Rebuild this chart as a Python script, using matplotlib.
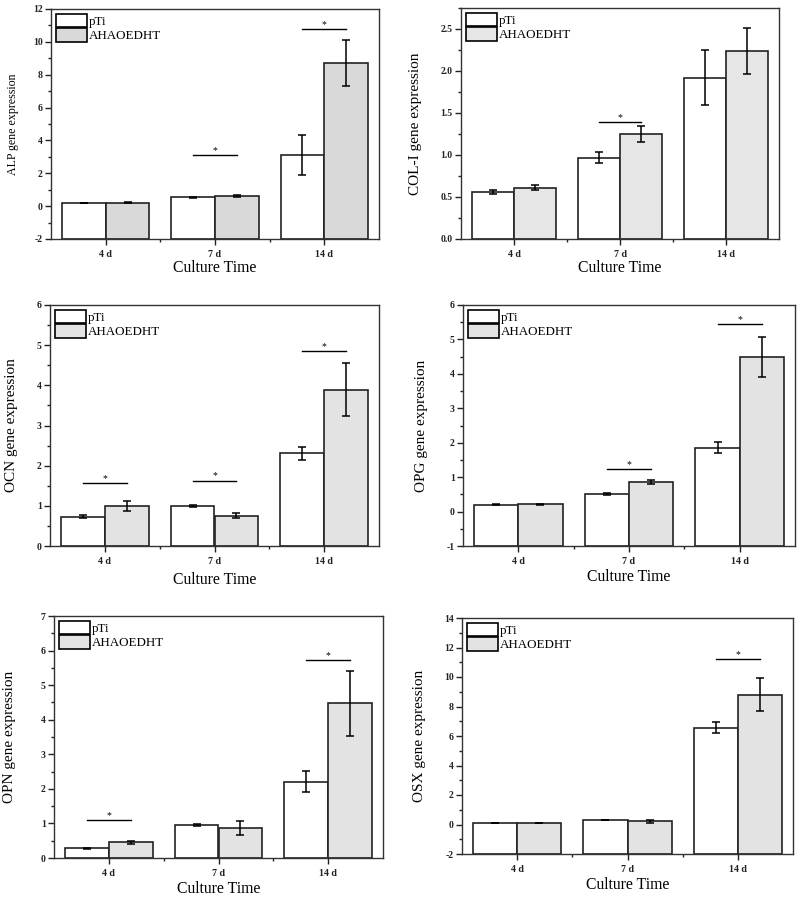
import matplotlib.pyplot as plt
import numpy as np
from matplotlib.ticker import MultipleLocator
from matplotlib.patches import Patch

plt.rcParams['font.family'] = ['Liberation Serif', 'DejaVu Serif']

days = ['4 d', '7 d', '14 d']
groups = ['pTi', 'AHAOEDHT']

# mean values and error
alp_pti = [0.20, 0.55, 3.10]
alp_pti_err = [0.02, 0.03, 1.22]
alp_aha = [0.22, 0.62, 8.72]
alp_aha_err = [0.03, 0.06, 1.40]
alp_sig = [(1, 3.10), (2, 10.80)]

col_pti = [0.56, 0.97, 1.92]
col_pti_err = [0.02, 0.07, 0.33]
col_aha = [0.61, 1.25, 2.24]
col_aha_err = [0.03, 0.09, 0.27]
col_sig = [(1, 1.39)]

ocn_pti = [0.73, 1.00, 2.31]
ocn_pti_err = [0.04, 0.02, 0.16]
ocn_aha = [1.00, 0.75, 3.89]
ocn_aha_err = [0.12, 0.06, 0.66]
ocn_sig = [(0, 1.57), (1, 1.63), (2, 4.85)]

opg_pti = [0.20, 0.52, 1.85]
opg_pti_err = [0.01, 0.03, 0.16]
opg_aha = [0.21, 0.86, 4.48]
opg_aha_err = [0.01, 0.05, 0.58]
opg_sig = [(1, 1.23), (2, 5.45)]

opn_pti = [0.28, 0.95, 2.21]
opn_pti_err = [0.02, 0.03, 0.31]
opn_aha = [0.45, 0.87, 4.47]
opn_aha_err = [0.04, 0.20, 0.95]
opn_sig = [(0, 1.11), (2, 5.73)]

osx_pti = [0.08, 0.30, 6.57]
osx_pti_err = [0.01, 0.02, 0.35]
osx_aha = [0.08, 0.22, 8.80]
osx_aha_err = [0.01, 0.10, 1.10]
osx_sig = [(2, 11.23)]

W, H = 800, 899
fig = plt.figure(figsize=(W / 100, H / 100), dpi=100)

# name, data, ylim, step, axes box in px (x0, y0, x1, y1), ylabel size, fill, ylabel offset px, xlabel offset px
panels = [
    ('ALP', alp_pti, alp_pti_err, alp_aha, alp_aha_err, alp_sig, (-2, 12), 2,
     (51, 9, 379, 239), 8.6, '#d9d9d9', 38, 29),
    ('COL-I', col_pti, col_pti_err, col_aha, col_aha_err, col_sig, (0, 2.75), 0.5,
     (461, 8, 779, 239), 11, '#e6e6e6', 46, 29),
    ('OCN', ocn_pti, ocn_pti_err, ocn_aha, ocn_aha_err, ocn_sig, (0, 6), 1,
     (50, 305, 379, 546), 11, '#e3e3e3', 38, 34),
    ('OPG', opg_pti, opg_pti_err, opg_aha, opg_aha_err, opg_sig, (-1, 6), 1,
     (463, 305, 795, 546), 11, '#e3e3e3', 42, 31),
    ('OPN', opn_pti, opn_pti_err, opn_aha, opn_aha_err, opn_sig, (0, 7), 1,
     (54, 616, 383, 858), 11, '#e3e3e3', 44, 31),
    ('OSX', osx_pti, osx_pti_err, osx_aha, osx_aha_err, osx_sig, (-2, 14), 2,
     (462, 618, 793, 854), 11, '#e3e3e3', 42, 31),
]

x = np.arange(1, len(days) + 1)
bw = 0.4
edge = '#222222'

for (name, pti, pti_err, aha, aha_err, sig, ylim, step, box, ylsize, fill,
     yoff, xoff) in panels:
    x0, y0, x1, y1 = box
    ax = fig.add_axes([x0 / W, (H - y1) / H, (x1 - x0) / W, (y1 - y0) / H])
    base = ylim[0]
    ax.bar(x - bw / 2, np.array(pti) - base, bw, bottom=base, color='white',
           edgecolor=edge, linewidth=1.2, zorder=2)
    ax.bar(x + bw / 2, np.array(aha) - base, bw, bottom=base, color=fill,
           edgecolor=edge, linewidth=1.2, zorder=2)
    ax.errorbar(x - bw / 2, pti, yerr=pti_err, fmt='none', ecolor='black',
                elinewidth=1.1, capsize=3, capthick=1.1, zorder=3)
    ax.errorbar(x + bw / 2, aha, yerr=aha_err, fmt='none', ecolor='black',
                elinewidth=1.1, capsize=3, capthick=1.1, zorder=3)
    for ci, ys in sig:
        ax.plot([x[ci] - bw / 2, x[ci] + bw / 2], [ys, ys], color='black',
                lw=1.0, zorder=3)
        ax.text(x[ci], ys, '*', ha='center', va='bottom', fontsize=7)

    ax.set_xlim(0.5, 3.5)
    ax.set_ylim(*ylim)
    ax.set_xticks(x)
    ax.set_xticklabels(days, fontweight='bold', fontsize=7.2)
    ax.set_xticks([1.5, 2.5], minor=True)
    ax.yaxis.set_major_locator(MultipleLocator(step))
    ax.yaxis.set_minor_locator(MultipleLocator(step / 2))
    if step < 1:
        fmt = '%.1f'
    else:
        fmt = '%d'
    ax.yaxis.set_major_formatter(plt.FormatStrFormatter(fmt))
    for lab in ax.get_yticklabels():
        lab.set_fontweight('bold')
        lab.set_fontsize(7)
    ax.tick_params(axis='both', which='major', direction='out', length=4,
                   width=1.0, pad=2, colors='#222222')
    ax.tick_params(axis='both', which='minor', direction='out', length=2.5,
                   width=1.0, colors='#222222')
    ax.tick_params(axis='x', which='major', pad=4)
    for sp in ax.spines.values():
        sp.set_linewidth(1.0)
        sp.set_color('#333333')

    ax.set_ylabel(name + ' gene expression', fontsize=ylsize)
    ax.yaxis.label.set_va('center')
    ax.yaxis.set_label_coords(-yoff / (x1 - x0), 0.5)
    ax.set_xlabel('Culture Time', fontsize=11.3)
    ax.xaxis.label.set_va('center')
    ax.xaxis.set_label_coords(0.5, -xoff / (y1 - y0))

    handles = [Patch(facecolor='white', edgecolor='black', linewidth=1.2),
               Patch(facecolor=fill, edgecolor='black', linewidth=1.2)]
    ax.legend(handles, groups, loc='upper left', frameon=False, fontsize=9.4,
              handlelength=2.4, handleheight=1.2, labelspacing=0.05,
              handletextpad=0.15, borderaxespad=0.35, borderpad=0.0)

fig.savefig('out.png', dpi=100)
